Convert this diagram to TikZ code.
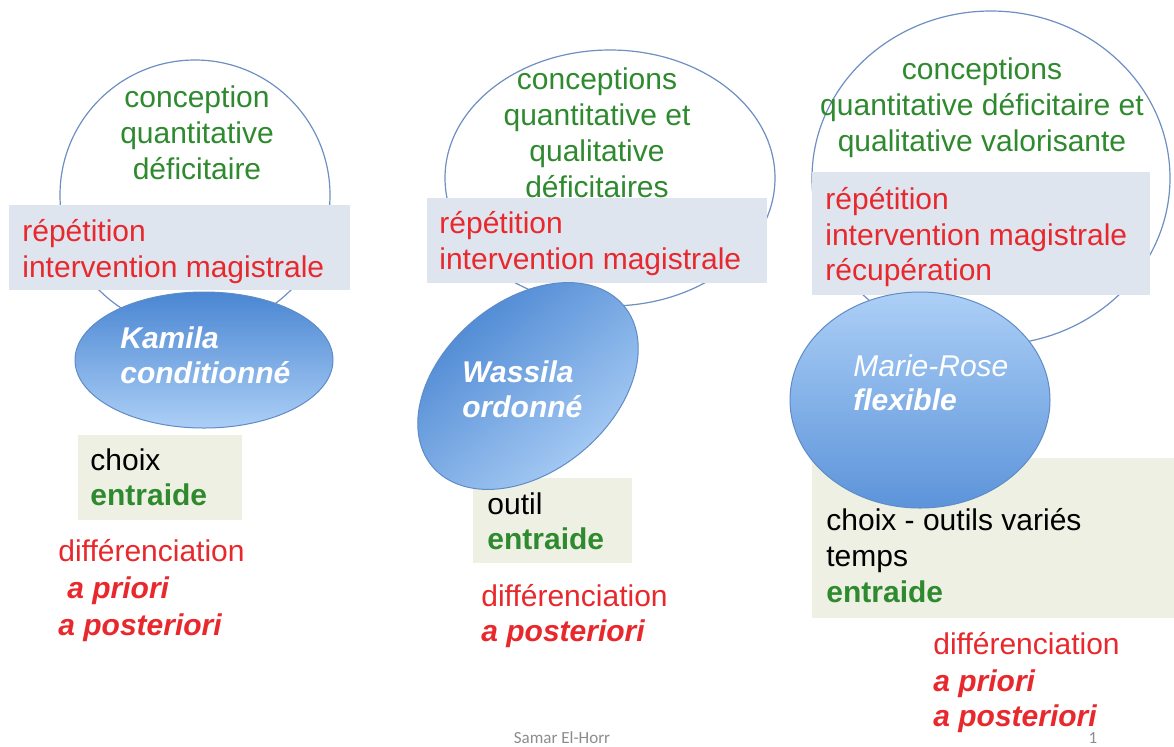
\documentclass[tikz,border=0pt]{standalone}
\usepackage{fontspec}
\setmainfont{Liberation Sans}
\newfontfamily\footfont{Carlito}
\definecolor{txtgreen}{HTML}{2F8A2F}
\definecolor{txtred}{HTML}{E8282C}
\definecolor{boxblue}{HTML}{DEE5EF}
\definecolor{boxgreen}{HTML}{EEF0E4}
\definecolor{ringline}{HTML}{6E8FC2}
\definecolor{blobdark}{HTML}{4A86D2}
\definecolor{bloblight}{HTML}{ACCFF6}
\definecolor{blobmid}{HTML}{5C94DA}
\definecolor{blobline}{HTML}{5F8CC6}
\definecolor{footgray}{HTML}{8C8C8C}
\newcommand{\mainsize}{\fontsize{15pt}{18pt}\selectfont}
\tikzset{
  every node/.style={inner sep=0pt, font=\mainsize},
  gtxt/.style={anchor=base, text=txtgreen},
  rtxt/.style={anchor=base west, text=txtred},
  rbi/.style={anchor=base west, text=txtred, font=\mainsize\bfseries\itshape},
  ktxt/.style={anchor=base west, text=black},
  gbold/.style={anchor=base west, text=txtgreen, font=\mainsize\bfseries},
  wbi/.style={anchor=base west, text=white, font=\mainsize\bfseries\itshape},
  wit/.style={anchor=base west, text=white, font=\mainsize\itshape},
  ring/.style={draw=ringline, line width=0.6pt},
  panel/.style={fill=boxblue},
  note/.style={fill=boxgreen},
  blob/.style={draw=blobline, line width=0.5pt, top color=blobdark, bottom color=bloblight},
  foot/.style={anchor=base, text=footgray, font=\footfont\fontsize{8.5pt}{10pt}\selectfont}
}
\begin{document}
\begin{tikzpicture}[x=0.5pt, y=-0.5pt]
\useasboundingbox (0,0) rectangle (1174,746);
\fill[white] (0,0) rectangle (1174,746);

% outline circles
\draw[ring] (195,195) circle [radius=135];
\draw[ring] (610,178) ellipse [x radius=165, y radius=128];
\draw[ring] (991,178) ellipse [x radius=179, y radius=167];

% green texts in circles
\node[gtxt] (c1a) at (197,107) {conception};
\node[gtxt] (c1b) at (197,143) {quantitative};
\node[gtxt] (c1c) at (197,179) {déficitaire};

\node[gtxt] (c2a) at (597,89) {conceptions};
\node[gtxt] (c2b) at (597,125) {quantitative et};
\node[gtxt] (c2c) at (597,161) {qualitative};
\node[gtxt] (c2d) at (597,197) {déficitaires};

\node[gtxt] (c3a) at (982,79) {conceptions};
\node[gtxt] (c3b) at (982,115) {quantitative déficitaire et};
\node[gtxt] (c3c) at (982,151) {qualitative valorisante};

% blue panels
\fill[panel] (9,205) rectangle (350,290);
\fill[panel] (427,198) rectangle (767,283);
\fill[panel] (812,172) rectangle (1150,295);

\node[rtxt] (p1a) at (22,241) {répétition};
\node[rtxt] (p1b) at (22,277) {intervention magistrale};

\node[rtxt] (p2a) at (439,233) {répétition};
\node[rtxt] (p2b) at (439,269) {intervention magistrale};

\node[rtxt] (p3a) at (825,209) {répétition};
\node[rtxt] (p3b) at (825,245) {intervention magistrale};
\node[rtxt] (p3c) at (825,280) {récupération};

% green notes
\fill[note] (78,435) rectangle (242,520);
\fill[note] (473,478) rectangle (632,563);
\fill[note] (812,458) rectangle (1174,618);

\node[ktxt] (n1a) at (90,470) {choix};
\node[gbold] (n1b) at (90,505) {entraide};

\node[ktxt] (n2a) at (487,514) {outil};
\node[gbold] (n2b) at (487,549) {entraide};

\node[ktxt] (n3a) at (826,530) {choix - outils variés};
\node[ktxt] (n3b) at (826,566) {temps};
\node[gbold] (n3c) at (826,602) {entraide};

% blue ellipses
\shade[blob] (204,360) ellipse [x radius=129, y radius=68];
\shade[blob, shading angle=40] plot[domain=0:360, samples=121]
  ({528 + 125*cos(\x)*cos(40) - 85*sin(\x)*sin(40)},
   {386 - 125*cos(\x)*sin(40) - 85*sin(\x)*cos(40)}) -- cycle;
\shade[blob, top color=bloblight, bottom color=blobmid] (920,400) ellipse [x radius=130, y radius=108];

\node[wbi] (e1a) at (120,348) {Kamila};
\node[wbi] (e1b) at (120,383) {conditionné};

\node[wbi] (e2a) at (462,382) {Wassila};
\node[wbi] (e2b) at (462,417) {ordonné};

\node[wit] (e3a) at (853,376) {Marie-Rose};
\node[wbi] (e3b) at (853,410) {flexible};

% differenciation
\node[rtxt] (d1a) at (58,561) {différenciation};
\node[rbi] (d1b) at (67,598) {a priori};
\node[rbi] (d1c) at (58,635) {a posteriori};

\node[rtxt] (d2a) at (481,606) {différenciation};
\node[rbi] (d2b) at (481,641) {a posteriori};

\node[rtxt] (d3a) at (933,654) {différenciation};
\node[rbi] (d3b) at (933,691) {a priori};
\node[rbi] (d3c) at (933,726) {a posteriori};

% footer
\node[foot] (author) at (562,743) {Samar El-Horr};
\node[foot] (pagenum) at (1093,743) {1};
\end{tikzpicture}
\end{document}
